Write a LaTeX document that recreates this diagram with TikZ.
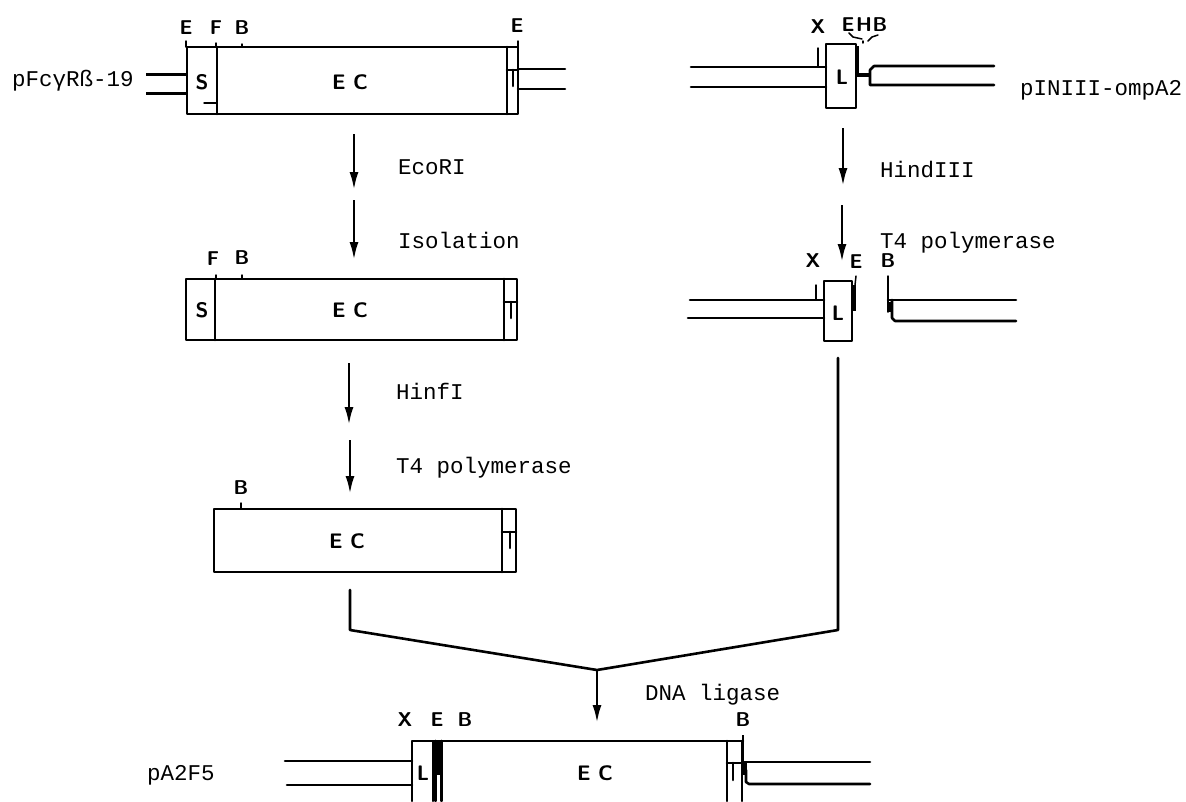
\documentclass[tikz,border=0pt]{standalone}
\usepackage{fontspec}
\setmainfont{Liberation Sans}
\setmonofont{Liberation Mono}
\usetikzlibrary{arrows.meta}
\tikzset{
  ln/.style={line width=2.6pt,line join=round,line cap=round},
  thin ln/.style={line width=1.5pt,line cap=round},
  thick ln/.style={line width=4pt},
  step arrow/.style={line width=2.6pt,-{Latex[length=18pt,width=9pt]}},
  lab/.style={inner sep=0pt,font=\fontsize{20}{20}\selectfont\bfseries\sffamily},
  boxlab/.style={inner sep=0pt,font=\fontsize{21}{21}\selectfont\bfseries\sffamily},
  txt/.style={inner sep=0pt,anchor=west,font=\fontsize{22.5}{22.5}\selectfont\ttfamily},
}
\begin{document}
\begin{tikzpicture}[x=1pt,y=-1pt]
\useasboundingbox (0,0) rectangle (1186,801);
% ---- Top left construct
\draw[ln] (187,47) rectangle (518,114);
\draw[ln] (217,47) -- (217,114);
\draw[ln] (507,47) -- (507,114);
\draw[ln] (507,70) -- (518,70);
\draw[ln] (513,70) -- (513,86);
\draw[thin ln] (204,103) -- (217,103);
\draw[line width=3pt] (146,74) -- (187,74);
\draw[line width=3pt] (146,93) -- (187,93);
\draw[ln] (518,69) -- (565,69);
\draw[ln] (518,89) -- (565,89);
\draw[thin ln] (186,41) -- (186,47);
\draw[thin ln] (216,43) -- (216,47);
\draw[thin ln] (242,44) -- (242,47);
\draw[thin ln] (518,41) -- (518,47);
\node[lab] (e1) at (186,28) {E};
\node[lab] (f1) at (216,28) {F};
\node[lab] (b1) at (242,28) {B};
\node[lab] (e2) at (517,26) {E};
\node[boxlab] (s1) at (202,82) {S};
\node[boxlab] (ec1) at (350,82) {E C};
\node[txt] (name1) at (12,81) {pFcγRß-19};
% ---- Left column arrows
\coordinate (a1s) at (354,134); \coordinate (a1e) at (354,190);
\coordinate (a2s) at (354,200); \coordinate (a2e) at (354,260);
\coordinate (a3s) at (349,363); \coordinate (a3e) at (349,425);
\coordinate (a4s) at (350,440); \coordinate (a4e) at (350,494);
\draw[step arrow] (a1s) -- (a1e);
\draw[step arrow] (a2s) -- (a2e);
\draw[step arrow] (a3s) -- (a3e);
\draw[step arrow] (a4s) -- (a4e);
\node[txt] (t1) at (398,167) {EcoRI};
\node[txt] (t2) at (398,240) {Isolation};
\node[txt] (t3) at (396,391) {HinfI};
\node[txt] (t4) at (396,468) {T4 polymerase};
% ---- Second left construct
\draw[ln] (186,279) rectangle (517,340);
\draw[ln] (215,279) -- (215,340);
\draw[ln] (504,279) -- (504,340);
\draw[ln] (504,302) -- (517,302);
\draw[ln] (511,302) -- (511,318);
\draw[thin ln] (216,275) -- (216,279);
\draw[thin ln] (242,275) -- (242,279);
\node[lab] (f2) at (213,259) {F};
\node[lab] (b2) at (242,258) {B};
\node[boxlab] (s2) at (202,310) {S};
\node[boxlab] (ec2) at (350,310) {E C};
% ---- Third left construct
\draw[ln] (214,509) rectangle (516,572);
\draw[ln] (502,509) -- (502,572);
\draw[ln] (502,532) -- (516,532);
\draw[ln] (510,532) -- (510,548);
\draw[thin ln] (241,503) -- (241,509);
\node[lab] (b3) at (241,488) {B};
\node[boxlab] (ec3) at (347,541) {E C};
% ---- Top right construct
\draw[ln] (826,44) rectangle (856,108);
\draw[ln] (691,67) -- (826,67);
\draw[ln] (691,87) -- (826,87);
\draw[thin ln] (818,48) -- (818,67);
\draw[line width=3pt] (857,46) -- (857,74);
\draw[line width=4pt] (856,75) -- (870,75);
\draw[ln] (994,66) -- (874,66) -- (870,70) -- (870,85) -- (994,85);
\draw[thin ln] (849,33) -- (853,37) -- (862,39);
\draw[thin ln] (868,41) -- (872,37) -- (878,35);
\draw[thin ln] (863,41) -- (863,43);
\node[lab] (x1) at (818,27) {X};
\node[lab] (e3) at (848,25) {E};
\node[lab] (h1) at (864,25) {H};
\node[lab] (b4) at (880,25) {B};
\node[boxlab] (l1) at (842,77) {L};
\node[txt] (name2) at (1020,90) {pINIII-ompA2};
\coordinate (a5s) at (843,128); \coordinate (a5e) at (843,186);
\coordinate (a6s) at (842,205); \coordinate (a6e) at (842,262);
\draw[step arrow] (a5s) -- (a5e);
\draw[step arrow] (a6s) -- (a6e);
\node[txt] (t5) at (880,169) {HindIII};
\node[txt] (t6) at (880,243) {T4 polymerase};
% ---- Second right construct
\draw[ln] (824,281) rectangle (852,341);
\draw[ln] (690,300) -- (824,300);
\draw[ln] (688,318) -- (824,318);
\draw[thin ln] (816,285) -- (816,300);
\draw[thick ln] (854,285) -- (854,311);
\draw[thin ln] (856,276) -- (855,285);
\draw[thin ln] (888,276) -- (888,312);
\draw[line width=5pt] (890,302) -- (890,312);
\draw[ln] (888,300) -- (1016,300);
\draw[ln] (892,300) -- (892,318) -- (895,321) -- (1016,321);
\node[lab] (x2) at (813,261) {X};
\node[lab] (e4) at (856,262) {E};
\node[lab] (b5) at (888,261) {B};
\node[boxlab] (l2) at (838,313) {L};
% ---- Merge
\coordinate (m1) at (350,590); \coordinate (m2) at (350,630);
\coordinate (m3) at (597,670);
\coordinate (m4) at (838,630); \coordinate (m5) at (838,358);
\coordinate (m6) at (597,723);
\draw[ln] (m1) -- (m2) -- (m3) -- (m4) -- (m5);
\draw[step arrow] (m3) -- (m6);
\node[txt] (t7) at (645,695) {DNA ligase};
% ---- Bottom construct
\draw[ln] (412,801) -- (412,741) -- (433,741) -- (433,801);
\draw[ln] (433,741) -- (743,741);
\draw[line width=7pt] (438.5,741) -- (438.5,775);
\draw[ln] (435.5,741) -- (435.5,801);
\draw[ln] (441.5,741) -- (441.5,801);
\draw[ln] (727,741) -- (727,801);
\draw[ln] (742,741) -- (742,801);
\draw[line width=1.8pt] (743,735) -- (743,763);
\draw[line width=5pt] (744.5,763) -- (744.5,775);
\draw[ln] (285,761) -- (412,761);
\draw[ln] (287,785) -- (412,785);
\draw[ln] (743,762) -- (870,762);
\draw[ln] (746,770) -- (746,782) -- (749,784) -- (870,784);
\draw[ln] (727,763) -- (742,763);
\draw[ln] (733,763) -- (733,780);
\node[lab] (x3) at (405,720) {X};
\node[lab] (e5) at (437,720) {E};
\node[lab] (b6) at (465,720) {B};
\node[lab] (b7) at (743,720) {B};
\node[boxlab] (l3) at (423,773) {L};
\node[boxlab] (ec4) at (595,773) {E C};
\node[txt] (name3) at (147,775) {pA2F5};
\end{tikzpicture}
\end{document}
